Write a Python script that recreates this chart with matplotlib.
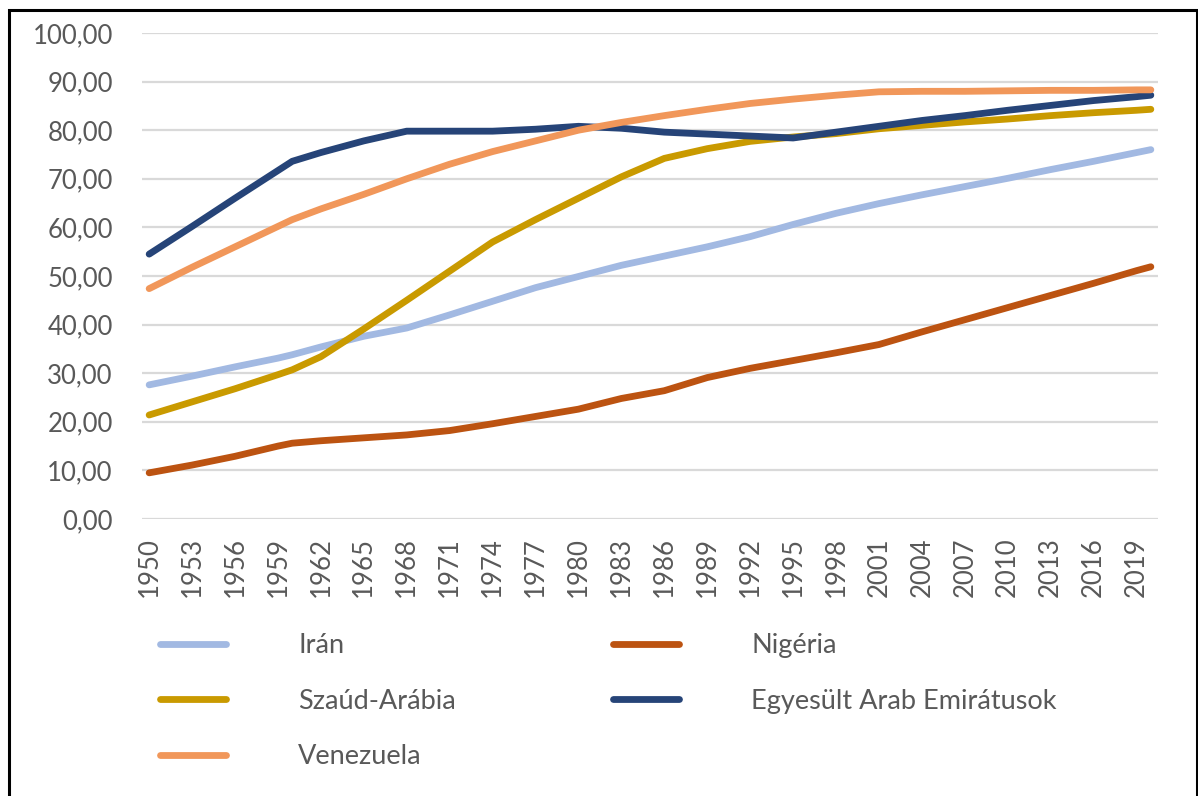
import matplotlib
matplotlib.use("Agg")
import matplotlib.pyplot as plt
from matplotlib.patches import Rectangle
from matplotlib.ticker import FuncFormatter

years = [1950, 1953, 1956, 1959, 1960, 1962, 1965, 1968, 1971, 1974, 1977, 1980, 1983,
         1986, 1989, 1992, 1995, 1998, 2001, 2004, 2007, 2010, 2013, 2016, 2019, 2020]

iran = [27.6, 29.4, 31.3, 33.1, 33.8, 35.4, 37.6, 39.3, 42.0, 44.8, 47.6, 49.9, 52.2,
        54.1, 56.0, 58.1, 60.6, 62.9, 64.9, 66.7, 68.4, 70.1, 71.9, 73.6, 75.4, 76.0]
nigeria = [9.5, 11.1, 12.9, 15.0, 15.6, 16.1, 16.7, 17.3, 18.2, 19.6, 21.1, 22.6, 24.8,
           26.4, 29.1, 31.0, 32.6, 34.2, 35.9, 38.5, 41.0, 43.5, 46.0, 48.5, 51.1, 51.9]
szaud = [21.4, 24.1, 26.8, 29.7, 30.7, 33.4, 39.1, 45.0, 51.0, 57.0, 61.6, 66.0, 70.4,
         74.2, 76.2, 77.7, 78.6, 79.3, 80.3, 81.0, 81.7, 82.3, 83.0, 83.6, 84.1, 84.3]
uae = [54.5, 60.2, 66.0, 71.7, 73.6, 75.4, 77.8, 79.8, 79.8, 79.8, 80.2, 80.8, 80.4,
       79.6, 79.2, 78.8, 78.4, 79.6, 80.8, 82.0, 83.0, 84.1, 85.1, 86.1, 86.9, 87.2]
venezuela = [47.4, 51.8, 56.0, 60.2, 61.6, 63.8, 66.8, 70.0, 73.0, 75.6, 77.8, 80.0, 81.6,
             83.0, 84.3, 85.5, 86.4, 87.2, 87.9, 88.0, 88.0, 88.1, 88.2, 88.2, 88.3, 88.3]

labels = ["Irán", "Nigéria", "Szaúd-Arábia", "Egyesült Arab Emirátusok", "Venezuela"]
series = [iran, nigeria, szaud, uae, venezuela]
colors = ["#A2B9E2", "#BC5311", "#C99A00", "#264478", "#F1975A"]

tick_years = list(range(1950, 2020, 3))

plt.rcParams["font.family"] = ["Lato", "DejaVu Sans"]
text_color = "#595959"

fig = plt.figure(figsize=(11.98, 7.96), dpi=100)
ax = fig.add_axes([142 / 1198, 1 - 519 / 796, (1158 - 142) / 1198, (519 - 33) / 796])

lines = {}
for name, vals, col in zip(labels, series, colors):
    (ln,) = ax.plot(years, vals, color=col, lw=4.9, solid_capstyle="round",
                    solid_joinstyle="round", label=name)
    lines[name] = ln

ax.set_xlim(1949.5, 2020.5)
ax.set_ylim(0, 100)
ax.set_yticks(range(0, 101, 10))
ax.yaxis.set_major_formatter(FuncFormatter(lambda v, p: f"{v:.2f}".replace(".", ",")))
ax.set_xticks(tick_years)
ax.set_xticklabels([str(y) for y in tick_years], rotation=90)
ax.tick_params(axis="y", length=0, pad=21, labelsize=18.5, labelcolor=text_color)
ax.tick_params(axis="x", length=0, pad=13, labelsize=18.5, labelcolor=text_color)
ax.grid(axis="y", color="#D9D9D9", lw=1.6)
ax.set_axisbelow(True)
for s in ax.spines.values():
    s.set_visible(False)

order = ["Irán", "Szaúd-Arábia", "Venezuela", "Nigéria", "Egyesült Arab Emirátusok"]
fig.legend([lines[n] for n in order], order, ncol=2, loc="upper left",
           bbox_to_anchor=(160 / 1198, 1 - 633 / 796), bbox_transform=fig.transFigure,
           frameon=False, fontsize=19.5, labelcolor=text_color, handlelength=2.44,
           handletextpad=2.66, columnspacing=5.8, labelspacing=1.13, borderpad=0,
           borderaxespad=0)

# outer chart frame
fig.patches.append(Rectangle((8.5 / 1198, -0.05), (1196.5 - 8.5) / 1198, 1.05 - 10.5 / 796,
                             transform=fig.transFigure, fill=False, edgecolor="black",
                             lw=2.2))

fig.savefig("out.png", dpi=100)
